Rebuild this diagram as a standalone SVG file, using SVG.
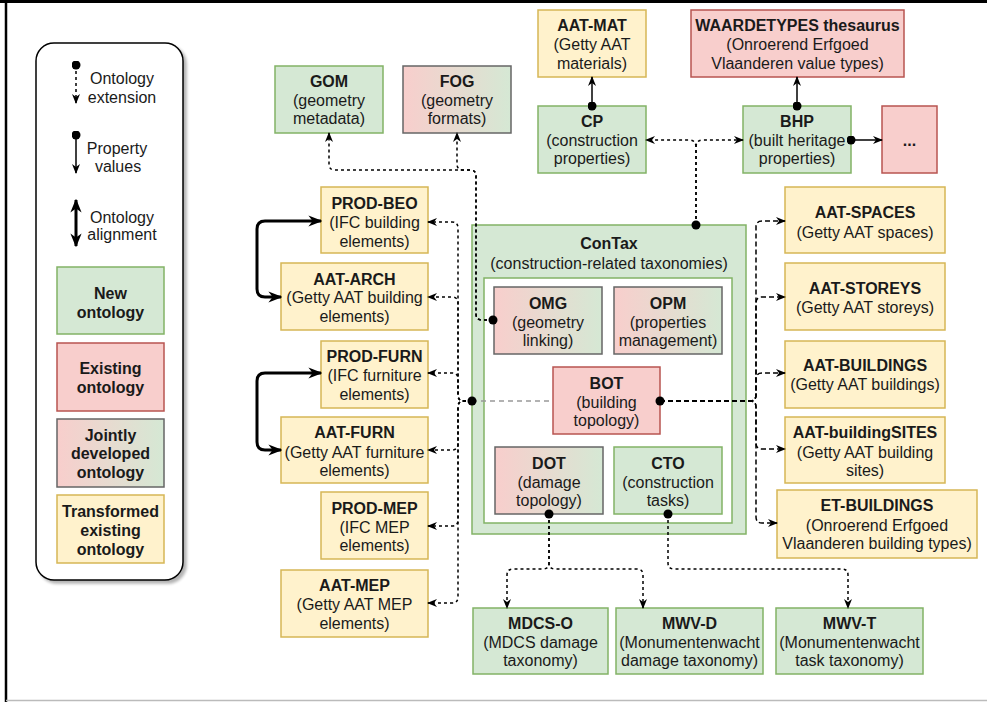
<svg xmlns="http://www.w3.org/2000/svg" width="987" height="702" viewBox="0 0 987 702">
<defs>
<linearGradient id="joint" x1="0" y1="0" x2="1" y2="0">
<stop offset="0" stop-color="#f8cecc"/>
<stop offset="1" stop-color="#d5e8d4"/>
</linearGradient>
<marker id="arr" viewBox="0 0 10 10" refX="9" refY="5" markerWidth="10" markerHeight="10" markerUnits="userSpaceOnUse" orient="auto-start-reverse">
<path d="M0,1 L10,5 L0,9 L3,5 Z" fill="#000"/>
</marker>
<marker id="arrB" viewBox="0 0 10 10" refX="9" refY="5" markerWidth="14" markerHeight="14" markerUnits="userSpaceOnUse" orient="auto-start-reverse">
<path d="M0,1 L10,5 L0,9 L3,5 Z" fill="#000"/>
</marker>
<marker id="dot" viewBox="0 0 10 10" refX="5" refY="5" markerWidth="9" markerHeight="9" markerUnits="userSpaceOnUse">
<circle cx="5" cy="5" r="5" fill="#000"/>
</marker>
<filter id="shadow" x="-10%" y="-10%" width="130%" height="130%">
<feGaussianBlur in="SourceAlpha" stdDeviation="1.5"/>
<feOffset dx="3" dy="3" result="b"/>
<feComponentTransfer><feFuncA type="linear" slope="0.3"/></feComponentTransfer>
<feMerge><feMergeNode/><feMergeNode in="SourceGraphic"/></feMerge>
</filter>
</defs>
<style>
text{font-family:"Liberation Sans",Arial,Helvetica,sans-serif;font-size:16px;fill:#1a1a1a;text-anchor:middle}
.b{font-weight:bold}
.g{fill:#d5e8d4;stroke:#82b366;stroke-width:1.5}
.r{fill:#f8cecc;stroke:#b85450;stroke-width:1.5}
.y{fill:#fff2cc;stroke:#d6b656;stroke-width:1.5}
.j{fill:url(#joint);stroke:#666;stroke-width:1.5}
.w{fill:#fff;stroke:#82b366;stroke-width:1.5}
.ext{fill:none;stroke:#000;stroke-width:1.5;stroke-dasharray:3 3;marker-end:url(#arr)}
.dsh{fill:none;stroke:#000;stroke-width:1.5;stroke-dasharray:5 3;marker-end:url(#arr)}
.prop{fill:none;stroke:#000;stroke-width:1.5;marker-start:url(#dot);marker-end:url(#arr)}
.align{fill:none;stroke:#000;stroke-width:3;marker-start:url(#arrB);marker-end:url(#arrB)}
</style>
<rect width="987" height="702" fill="#fff"/>
<line x1="0" y1="1.5" x2="987" y2="1.5" stroke="#000" stroke-width="3"/>
<line x1="6" y1="0" x2="6" y2="702" stroke="#000" stroke-width="2.5"/>
<line x1="6" y1="700.5" x2="987" y2="700.5" stroke="#bbb" stroke-width="1.5"/>

<g id="legend">
<rect x="36" y="43" width="147" height="537" rx="18" fill="#fff" stroke="#000" stroke-width="1.5" filter="url(#shadow)"/>
<path d="M76,65 V103" fill="none" stroke="#000" stroke-width="1.5" stroke-dasharray="3 3" marker-start="url(#dot)" marker-end="url(#arr)"/>
<text x="122" y="84">Ontology</text><text x="122" y="103">extension</text>
<path d="M76,135 V173" class="prop"/>
<text x="117" y="154">Property</text><text x="118" y="172">values</text>
<path d="M76,200 V246" class="align"/>
<text x="122" y="223">Ontology</text><text x="122" y="240">alignment</text>
<rect x="57" y="267" width="107" height="67" class="g"/>
<text class="b" x="110.5" y="299">New</text><text class="b" x="110.5" y="318">ontology</text>
<rect x="57" y="343" width="107" height="68" class="r"/>
<text class="b" x="110.5" y="374">Existing</text><text class="b" x="110.5" y="393">ontology</text>
<rect x="57" y="419" width="107" height="68" class="j"/>
<text class="b" x="110.5" y="441">Jointly</text><text class="b" x="110.5" y="459">developed</text><text class="b" x="110.5" y="478">ontology</text>
<rect x="57" y="495" width="107" height="68" class="y"/>
<text class="b" x="110.5" y="517">Transformed</text><text class="b" x="110.5" y="536">existing</text><text class="b" x="110.5" y="555">ontology</text>
</g>

<g id="GOM"><rect x="275" y="66" width="108" height="67" class="g"/>
<text class="b" x="329" y="87">GOM</text><text x="329" y="106">(geometry</text><text x="329" y="124">metadata)</text></g>
<g id="FOG"><rect x="403" y="66" width="108" height="67" class="j"/>
<text class="b" x="457" y="87">FOG</text><text x="457" y="106">(geometry</text><text x="457" y="124">formats)</text></g>
<g id="AAT-MAT"><rect x="538" y="10" width="108" height="67" class="y"/>
<text class="b" x="592" y="31">AAT-MAT</text><text x="592" y="50">(Getty AAT</text><text x="592" y="69">materials)</text></g>
<g id="WAARDETYPES"><rect x="691" y="10" width="213" height="67" class="r"/>
<text class="b" x="797.5" y="31">WAARDETYPES thesaurus</text><text x="797.5" y="50">(Onroerend Erfgoed</text><text x="797.5" y="69">Vlaanderen value types)</text></g>
<g id="CP"><rect x="538" y="106" width="108" height="67" class="g"/>
<text class="b" x="592" y="127">CP</text><text x="592" y="146">(construction</text><text x="592" y="164">properties)</text></g>
<g id="BHP"><rect x="743" y="106" width="108" height="67" class="g"/>
<text class="b" x="797" y="127">BHP</text><text x="797" y="146">(built heritage</text><text x="797" y="164">properties)</text></g>
<g id="more"><rect x="882" y="106" width="55" height="67" class="r"/>
<text class="b" x="909.5" y="146">...</text></g>

<g id="PROD-BEO"><rect x="321" y="187" width="107" height="66" class="y"/>
<text class="b" x="374.5" y="209">PROD-BEO</text><text x="374.5" y="228">(IFC building</text><text x="374.5" y="247">elements)</text></g>
<g id="AAT-ARCH"><rect x="281" y="263" width="147" height="67" class="y"/>
<text class="b" x="354.5" y="285">AAT-ARCH</text><text x="354.5" y="303">(Getty AAT building</text><text x="354.5" y="322">elements)</text></g>
<g id="PROD-FURN"><rect x="321" y="341" width="107" height="67" class="y"/>
<text class="b" x="374.5" y="362">PROD-FURN</text><text x="374.5" y="381">(IFC furniture</text><text x="374.5" y="400">elements)</text></g>
<g id="AAT-FURN"><rect x="281" y="417" width="147" height="66" class="y"/>
<text class="b" x="354.5" y="438">AAT-FURN</text><text x="354.5" y="458">(Getty AAT furniture</text><text x="354.5" y="476">elements)</text></g>
<g id="PROD-MEP"><rect x="321" y="492" width="107" height="67" class="y"/>
<text class="b" x="374.5" y="514">PROD-MEP</text><text x="374.5" y="533">(IFC MEP</text><text x="374.5" y="551">elements)</text></g>
<g id="AAT-MEP"><rect x="281" y="570" width="147" height="67" class="y"/>
<text class="b" x="354.5" y="591">AAT-MEP</text><text x="354.5" y="610">(Getty AAT MEP</text><text x="354.5" y="629">elements)</text></g>

<g id="ConTax"><rect x="472" y="225" width="274" height="309" class="g"/>
<text class="b" x="609" y="249">ConTax</text><text x="609" y="269">(construction-related taxonomies)</text>
<rect x="484" y="278" width="248" height="245" class="w"/></g>
<g id="OMG"><rect x="494" y="287" width="108" height="67" class="j"/>
<text class="b" x="548" y="309">OMG</text><text x="548" y="328">(geometry</text><text x="548" y="346">linking)</text></g>
<g id="OPM"><rect x="614" y="287" width="108" height="67" class="j"/>
<text class="b" x="668" y="309">OPM</text><text x="668" y="328">(properties</text><text x="668" y="346">management)</text></g>
<g id="BOT"><rect x="553" y="367" width="107" height="67" class="r"/>
<text class="b" x="606.5" y="389">BOT</text><text x="606.5" y="408">(building</text><text x="606.5" y="426">topology)</text></g>
<g id="DOT"><rect x="495" y="447" width="108" height="67" class="j"/>
<text class="b" x="549" y="469">DOT</text><text x="549" y="488">(damage</text><text x="549" y="506">topology)</text></g>
<g id="CTO"><rect x="614" y="447" width="108" height="67" class="g"/>
<text class="b" x="668" y="469">CTO</text><text x="668" y="488">(construction</text><text x="668" y="506">tasks)</text></g>

<g id="AAT-SPACES"><rect x="785" y="187" width="160" height="66" class="y"/>
<text class="b" x="865" y="218">AAT-SPACES</text><text x="865" y="238">(Getty AAT spaces)</text></g>
<g id="AAT-STOREYS"><rect x="785" y="263" width="160" height="67" class="y"/>
<text class="b" x="865" y="294">AAT-STOREYS</text><text x="865" y="313">(Getty AAT storeys)</text></g>
<g id="AAT-BUILDINGS"><rect x="785" y="341" width="160" height="67" class="y"/>
<text class="b" x="865" y="371">AAT-BUILDINGS</text><text x="865" y="390">(Getty AAT buildings)</text></g>
<g id="AAT-buildingSITES"><rect x="785" y="417" width="160" height="66" class="y"/>
<text class="b" x="865" y="438">AAT-buildingSITES</text><text x="865" y="458">(Getty AAT building</text><text x="865" y="476">sites)</text></g>
<g id="ET-BUILDINGS"><rect x="777" y="490" width="200" height="68" class="y"/>
<text class="b" x="877" y="511">ET-BUILDINGS</text><text x="877" y="531">(Onroerend Erfgoed</text><text x="877" y="549">Vlaanderen building types)</text></g>

<g id="MDCS-O"><rect x="473" y="608" width="135" height="66" class="g"/>
<text class="b" x="540.5" y="629">MDCS-O</text><text x="540.5" y="648">(MDCS damage</text><text x="540.5" y="666">taxonomy)</text></g>
<g id="MWV-D"><rect x="616" y="608" width="147" height="66" class="g"/>
<text class="b" x="689.5" y="629">MWV-D</text><text x="689.5" y="648">(Monumentenwacht</text><text x="689.5" y="666">damage taxonomy)</text></g>
<g id="MWV-T"><rect x="776" y="608" width="147" height="66" class="g"/>
<text class="b" x="849.5" y="629">MWV-T</text><text x="849.5" y="648">(Monumentenwacht</text><text x="849.5" y="666">task taxonomy)</text></g>

<g id="connectors">
<path d="M696,225 V147 Q696,140 689,140 H646" class="ext"/>
<path d="M696,225 V147 Q696,140 703,140 H743" class="ext"/>
<path d="M592,106 V77" class="prop"/>
<path d="M797,106 V77" class="prop"/>
<path d="M851,140 H882" class="prop"/>
<path d="M493,320 H482 Q476,320 476,314 V176 Q476,170 470,170 H335 Q329,170 329,164 V133" class="ext"/>
<path d="M493,320 H482 Q476,320 476,314 V176 Q476,170 470,170 H463 Q457,170 457,164 V133" class="ext"/>
<line x1="472" y1="401" x2="553" y2="401" stroke="#999" stroke-width="1.5" stroke-dasharray="5 4"/>
<path d="M472,401 H464 Q458,401 458,395 V228 Q458,222 452,222 H428" class="ext"/>
<path d="M472,401 H464 Q458,401 458,395 V303 Q458,297 452,297 H428" class="ext"/>
<path d="M472,401 H464 Q458,401 458,395 V379 Q458,373 452,373 H428" class="ext"/>
<path d="M472,401 H464 Q458,401 458,407 V444 Q458,450 452,450 H428" class="ext"/>
<path d="M472,401 H464 Q458,401 458,407 V520 Q458,526 452,526 H428" class="ext"/>
<path d="M472,401 H464 Q458,401 458,407 V597 Q458,603 452,603 H428" class="ext"/>
<path d="M660,401 H750 Q756,401 756,395 V227 Q756,221 762,221 H785" class="dsh"/>
<path d="M660,401 H750 Q756,401 756,395 V303 Q756,297 762,297 H785" class="dsh"/>
<path d="M660,401 H750 Q756,401 756,395 V379 Q756,373 762,373 H785" class="dsh"/>
<path d="M660,401 H750 Q756,401 756,407 V443 Q756,449 762,449 H785" class="dsh"/>
<path d="M660,401 H750 Q756,401 756,407 V517 Q756,523 762,523 H777" class="dsh"/>
<path d="M549,514 V563 Q549,569 543,569 H513 Q507,569 507,575 V608" class="ext"/>
<path d="M549,514 V563 Q549,569 555,569 H637 Q643,569 643,575 V608" class="ext"/>
<path d="M668,514 V563 Q668,569 674,569 H842 Q848,569 848,575 V608" class="ext"/>
<path d="M321,221 H265 Q257,221 257,229 V289 Q257,297 265,297 H281" class="align"/>
<path d="M321,373 H265 Q257,373 257,381 V442 Q257,450 265,450 H281" class="align"/>
<g fill="#000">
<circle cx="696" cy="225" r="4.5"/>
<circle cx="493" cy="320" r="4.5"/>
<circle cx="472" cy="401" r="4.5"/>
<circle cx="660" cy="401" r="4.5"/>
<circle cx="549" cy="514" r="4.5"/>
<circle cx="668" cy="514" r="4.5"/>
</g>
</g>
</svg>
